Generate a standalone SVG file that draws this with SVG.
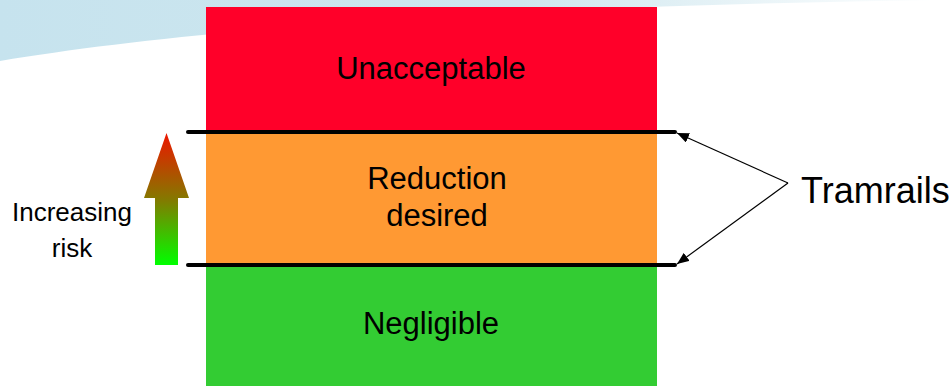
<svg xmlns="http://www.w3.org/2000/svg" width="949" height="386" viewBox="0 0 949 386">
  <defs>
    <linearGradient id="sky" x1="0" y1="0" x2="949" y2="0" gradientUnits="userSpaceOnUse">
      <stop offset="0" stop-color="#c6e3ee"/>
      <stop offset="0.55" stop-color="#cfe7ef"/>
      <stop offset="1" stop-color="#ffffff"/>
    </linearGradient>
    <linearGradient id="riskGrad" x1="0" y1="133" x2="0" y2="265" gradientUnits="userSpaceOnUse">
      <stop offset="0" stop-color="#ee1500"/>
      <stop offset="0.5" stop-color="#857800"/>
      <stop offset="1" stop-color="#00ff00"/>
    </linearGradient>
    <marker id="arrow" viewBox="0 0 12 10" refX="12" refY="5" markerWidth="12" markerHeight="10" markerUnits="userSpaceOnUse" orient="auto">
      <path d="M0,0 L12,5 L0,10 Z" fill="#000"/>
    </marker>
    <style>
      .lbl { font-family: "Liberation Sans", Arial, sans-serif; fill: #000; text-anchor: middle; }
      .band { font-size: 31px; }
      .rail { stroke: #000; stroke-width: 4; stroke-linecap: round; fill: none; }
      .pointer { stroke: #000; stroke-width: 1.2; fill: none; marker-end: url(#arrow); }
    </style>
  </defs>

  <rect width="949" height="386" fill="#ffffff"/>
  <path d="M0,0 L0,61 C180,31 480,6 949,0 Z" fill="url(#sky)"/>

  <g id="unacceptable">
    <rect x="206" y="7" width="451" height="125" fill="#ff0029"/>
    <text class="lbl band" x="431" y="79">Unacceptable</text>
  </g>
  <g id="reduction">
    <rect x="206" y="132" width="451" height="133" fill="#ff9933"/>
    <text class="lbl band" x="437" y="189">Reduction</text>
    <text class="lbl band" x="437" y="226">desired</text>
  </g>
  <g id="negligible">
    <rect x="206" y="265" width="451" height="121" fill="#33cc33"/>
    <text class="lbl band" x="431" y="334">Negligible</text>
  </g>

  <g id="increasing-risk">
    <path d="M155,265 L155,198 L144,198 L166.5,133 L189,198 L178,198 L178,265 Z" fill="url(#riskGrad)"/>
    <text class="lbl" style="font-size:26px" x="72" y="221">Increasing</text>
    <text class="lbl" style="font-size:26px" x="72" y="257">risk</text>
  </g>

  <g id="tramrails">
    <text class="lbl" style="font-size:36px; text-anchor:start" x="801" y="203">Tramrails</text>
  </g>

  <g id="connectors">
    <line class="rail" x1="188" y1="132" x2="675" y2="132"/>
    <line class="rail" x1="188" y1="265" x2="675" y2="265"/>
    <line class="pointer" x1="788" y1="183" x2="677" y2="133"/>
    <line class="pointer" x1="788" y1="183" x2="677" y2="264"/>
  </g>
</svg>
